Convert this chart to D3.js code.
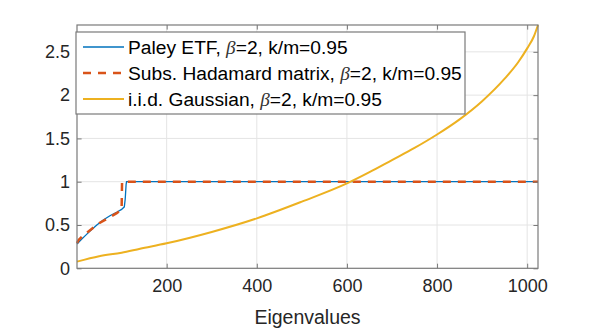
<!DOCTYPE html>
<html><head><meta charset="utf-8">
<script src="https://cdn.jsdelivr.net/npm/d3@7"></script>
<style>html,body{margin:0;padding:0;background:#fff;}svg{display:block;font-family:"Liberation Sans",Arial,sans-serif;}</style>
</head><body>
<svg id="c" width="595" height="329"></svg>
<script>
// ---- data ----
const paleyIdx   = [1, 10, 20, 30, 45, 60, 75, 90, 100, 106, 108, 110, 111, 1024];
const paleyVal   = [0.28, 0.33, 0.38, 0.43, 0.50, 0.56, 0.61, 0.65, 0.68, 0.71, 0.80, 0.97, 1.0, 1.0];
const hadIdx     = [1, 5, 15, 30, 50, 70, 90, 100, 101, 1024];
const hadVal     = [0.29, 0.33, 0.38, 0.44, 0.52, 0.58, 0.64, 0.68, 1.0, 1.0];
const gaussIdx   = [1, 50, 100, 141, 200, 300, 400, 500, 600, 650, 700, 750, 800, 850, 900, 950, 980, 1000, 1015, 1024];
const gaussVal   = [0.077, 0.14, 0.18, 0.226, 0.289, 0.42, 0.577, 0.77, 0.98, 1.11, 1.25, 1.39, 1.545, 1.72, 1.93, 2.19, 2.38, 2.54, 2.68, 2.81];
const xTicks     = [200, 400, 600, 800, 1000];
const yTicks     = [0, 0.5, 1, 1.5, 2, 2.5];
const legendLabels = ["Paley ETF", "Subs. Hadamard matrix", "i.i.d. Gaussian"];
const legendSuffix = ", k/m=0.95";
const xLabel = "Eigenvalues";

const svg = d3.select("#c");
const L = 77, R = 538, T = 25, B = 268.3;
const x = d3.scaleLinear().domain([1, 1024]).range([L, R]);
const y = d3.scaleLinear().domain([0, 2.81]).range([B, T]);

const gridColor = "#e4e4e4", axColor = "#7a7a7a", txtColor = "#262626";
const tickLen = 4.6;

// grid
svg.append("g").selectAll("line").data(xTicks).join("line")
  .attr("x1", d => x(d)).attr("x2", d => x(d)).attr("y1", T).attr("y2", B)
  .attr("stroke", gridColor).attr("stroke-width", 1);
svg.append("g").selectAll("line").data(yTicks.filter(d => d > 0)).join("line")
  .attr("x1", L).attr("x2", R).attr("y1", d => y(d)).attr("y2", d => y(d))
  .attr("stroke", gridColor).attr("stroke-width", 1);

// lines
const lin = (xs, ys, curve) => d3.line().curve(curve || d3.curveLinear)
  .x((d, i) => x(xs[i])).y((d, i) => y(ys[i]))(xs);
svg.append("path").attr("d", lin(paleyIdx, paleyVal)).attr("fill", "none")
  .attr("stroke", "#0072BD").attr("stroke-width", 1.3);
svg.append("path").attr("d", lin(hadIdx, hadVal)).attr("fill", "none")
  .attr("stroke", "#D95319").attr("stroke-width", 2.5).attr("stroke-dasharray", "8,7");
svg.append("path").attr("d", lin(gaussIdx, gaussVal, d3.curveMonotoneX)).attr("fill", "none")
  .attr("stroke", "#EDB120").attr("stroke-width", 2);

// axes using d3 axis
const axB = svg.append("g").attr("transform", `translate(0,${B})`)
  .call(d3.axisBottom(x).tickValues(xTicks).tickSizeInner(-tickLen).tickSizeOuter(0).tickFormat(d3.format("d")));
const axT = svg.append("g").attr("transform", `translate(0,${T})`)
  .call(d3.axisTop(x).tickValues(xTicks).tickSizeInner(-tickLen).tickSizeOuter(0).tickFormat(""));
const axL = svg.append("g").attr("transform", `translate(${L},0)`)
  .call(d3.axisLeft(y).tickValues(yTicks).tickSizeInner(-tickLen).tickSizeOuter(0).tickPadding(7).tickFormat(d3.format("~g")));
const axR = svg.append("g").attr("transform", `translate(${R},0)`)
  .call(d3.axisRight(y).tickValues(yTicks).tickSizeInner(-tickLen).tickSizeOuter(0).tickFormat(""));
[axB, axT, axL, axR].forEach(a => {
  a.select(".domain").remove();
  a.selectAll(".tick line").attr("stroke", axColor);
  a.selectAll(".tick text").attr("fill", txtColor).style("font-size", "18px").style("font-family", "Liberation Sans, Arial, sans-serif");
});
axB.selectAll(".tick text").attr("dy", "0.71em").attr("y", 11);
// box
svg.append("rect").attr("x", L).attr("y", T).attr("width", R - L).attr("height", B - T)
  .attr("fill", "none").attr("stroke", axColor).attr("stroke-width", 1.2);

// x label
svg.append("text").attr("x", (L + R) / 2).attr("y", 324).attr("text-anchor", "middle")
  .attr("fill", txtColor).style("font-size", "19.5px").text(xLabel);

// legend
const lg = svg.append("g");
lg.append("rect").attr("x", 76).attr("y", 32).attr("width", 389).attr("height", 82)
  .attr("fill", "#fff").attr("stroke", axColor).attr("stroke-width", 1.2);
const styles = [
  {c: "#0072BD", w: 1.3, dash: null},
  {c: "#D95319", w: 2.5, dash: "8,7"},
  {c: "#EDB120", w: 2, dash: null}
];
legendLabels.forEach((lab, i) => {
  const cy = 47 + i * 26;
  lg.append("line").attr("x1", 83).attr("x2", 124).attr("y1", cy).attr("y2", cy)
    .attr("stroke", styles[i].c).attr("stroke-width", styles[i].w)
    .attr("stroke-dasharray", styles[i].dash);
  const t = lg.append("text").attr("x", 128).attr("y", cy + 6.8).attr("fill", "#000")
    .style("font-size", "19.2px");
  t.append("tspan").text(lab + ", ");
  t.append("tspan").style("font-style", "italic").style("font-family", "Liberation Serif, serif").attr("fill", "#333").text("β");
  t.append("tspan").text("=2" + legendSuffix);
});
</script>
</body></html>
